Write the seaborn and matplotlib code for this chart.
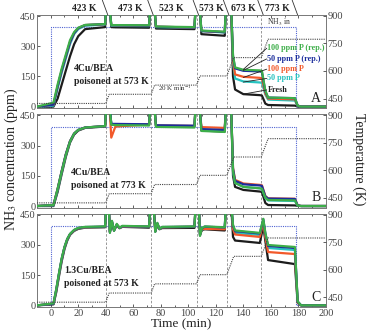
import numpy as np
import pandas as pd
import matplotlib
matplotlib.use('Agg')
import matplotlib.pyplot as plt
import matplotlib.transforms as mtransforms
import seaborn as sns

sns.set_style('ticks')
plt.rcParams['font.family'] = ['Liberation Serif', 'DejaVu Serif']
plt.rcParams['mathtext.fontset'] = 'stix'

# ---- data ----
samples = ['Fresh', '50 ppm P', '100 ppm P', '50 ppm P (rep.)', '100 ppm P (rep.)']
colors = {'Fresh': '#1c1c1c', '50 ppm P': '#27c3c0', '100 ppm P': '#f2592a',
          '50 ppm P (rep.)': '#1b2d9c', '100 ppm P (rep.)': '#3dae49'}

# time grid (min) for panels A and B
time_ab = [-10, 2, 5, 8, 11, 14, 17, 20, 25, 39.5, 40.5, 42.5, 44, 47, 71.5, 72.5, 75, 76.5,
           104.5, 105.5, 108, 109.5, 126.5, 127.5, 131, 132.5, 134, 140, 152, 153.5, 156, 158,
           177.5, 179.5, 182, 200]

conc_a = {
    'Fresh': [0, 0, 40, 110, 180, 250, 310, 350, 385, 395, 520, 520, 395, 394, 392, 520, 520, 388, 385,
              520, 520, 360, 352, 520, 520, 150, 85, 62, 57, 55, 15, 8, 5, 1, 0, 0],
    '50 ppm P': [0, 5, 90, 170, 240, 310, 360, 385, 402, 408, 520, 520, 402, 401, 400, 520, 520, 395, 392,
                 520, 520, 375, 368, 520, 520, 220, 140, 125, 120, 118, 60, 35, 30, 3, 0, 0],
    '100 ppm P': [0, 10, 100, 180, 250, 320, 365, 390, 405, 410, 520, 520, 405, 404, 402, 520, 520, 397, 393,
                  520, 520, 376, 370, 520, 520, 230, 160, 148, 143, 140, 65, 40, 36, 4, 0, 0],
    '50 ppm P (rep.)': [0, 10, 100, 180, 250, 320, 365, 390, 405, 410, 520, 520, 405, 404, 402, 520, 520, 397, 393,
                        520, 520, 376, 370, 520, 520, 250, 190, 178, 175, 172, 75, 45, 42, 5, 0, 0],
    '100 ppm P (rep.)': [0, 20, 110, 190, 260, 330, 370, 392, 406, 410, 520, 520, 405, 405, 404, 520, 520, 398, 395,
                         520, 520, 378, 372, 520, 520, 255, 195, 183, 180, 177, 80, 45, 42, 5, 0, 0],
}

conc_b = {
    'Fresh': [0, 0, 70, 160, 245, 315, 355, 375, 388, 395, 520, 520, 405, 404, 403, 520, 520, 398, 396,
              520, 520, 375, 370, 520, 520, 150, 95, 80, 72, 70, 15, 5, 3, 1, 0, 0],
    '50 ppm P': [0, 3, 80, 170, 255, 320, 360, 378, 390, 397, 520, 520, 407, 405, 404, 520, 520, 399, 397,
                 520, 520, 380, 374, 520, 520, 170, 115, 95, 88, 85, 40, 28, 25, 2, 0, 0],
    '100 ppm P': [0, 5, 85, 175, 258, 322, 360, 378, 390, 397, 520, 520, 340, 395, 405, 520, 520, 400, 398,
                  520, 520, 392, 388, 520, 520, 190, 130, 112, 105, 103, 50, 38, 36, 3, 0, 0],
    '50 ppm P (rep.)': [0, 5, 85, 175, 258, 322, 360, 378, 390, 397, 520, 520, 408, 408, 406, 520, 520, 401, 399,
                        520, 520, 382, 378, 520, 520, 185, 125, 108, 102, 100, 48, 37, 35, 3, 0, 0],
    '100 ppm P (rep.)': [0, 5, 85, 172, 255, 320, 360, 378, 390, 397, 520, 520, 404, 402, 400, 520, 520, 393, 390,
                         520, 520, 373, 368, 520, 520, 175, 115, 95, 88, 86, 42, 30, 28, 2, 0, 0],
}

# time grid (min) for panel C
time_c = [-10, 2, 4, 6, 8, 10, 12, 14, 17, 20, 25, 39.5, 40.5, 42, 43, 44.5, 46, 48, 50, 52,
          71.5, 72.5, 74.5, 76, 77.5, 79, 81, 104.5, 105.5, 107.5, 108.5, 110, 112,
          126.5, 127.5, 131, 132.5, 134, 140, 152, 154.5, 156, 158, 177.5, 179.5, 182, 200]

conc_c = {
    'Fresh': [0, 5, 65, 145, 220, 280, 322, 350, 370, 380, 386, 388, 520, 520, 368, 410, 375, 398, 383, 390,
              386, 520, 520, 370, 400, 378, 384, 385, 520, 520, 355, 375, 378,
              372, 520, 520, 340, 322, 318, 310, 395, 320, 225, 205, 12, 0, 0],
    '50 ppm P': [0, 8, 75, 155, 230, 288, 328, 353, 373, 383, 388, 390, 520, 520, 365, 415, 372, 400, 385, 392,
                 390, 520, 520, 368, 405, 380, 388, 390, 520, 520, 350, 383, 390,
                 386, 520, 520, 390, 360, 356, 350, 420, 350, 285, 275, 18, 0, 0],
    '100 ppm P': [0, 8, 75, 155, 230, 288, 328, 353, 373, 383, 388, 390, 520, 520, 365, 415, 372, 400, 385, 392,
                  390, 520, 520, 368, 405, 380, 388, 390, 520, 520, 350, 380, 380,
                  378, 520, 520, 380, 352, 348, 340, 415, 340, 265, 255, 15, 0, 0],
    '50 ppm P (rep.)': [0, 8, 78, 158, 232, 289, 329, 354, 374, 384, 389, 391, 520, 520, 362, 418, 371, 402, 385, 393,
                        391, 520, 520, 366, 408, 380, 389, 391, 520, 520, 348, 384, 391,
                        387, 520, 520, 395, 368, 365, 357, 428, 358, 295, 285, 18, 0, 0],
    '100 ppm P (rep.)': [0, 10, 80, 160, 235, 290, 330, 355, 375, 385, 390, 392, 520, 520, 360, 420, 370, 405, 385, 395,
                         392, 520, 520, 365, 410, 380, 390, 392, 520, 520, 345, 385, 392,
                         388, 520, 520, 400, 372, 368, 360, 430, 360, 300, 290, 20, 0, 0],
}

# NH3 inlet and temperature programme
nh3_in_t = [-10, 0, 0, 178.5, 178.5, 200]
nh3_in_v = [0, 0, 395, 395, 0, 0]
temp_t = [-10, 40, 42.5, 73, 75.5, 106, 108.5, 128, 133, 153, 158, 200]
temp_k = [423, 423, 473, 473, 523, 523, 573, 573, 673, 673, 773, 773]
step_times = [40, 73, 106, 128, 153]
stage_labels = ['423 K', '473 K', '523 K', '573 K', '673 K', '773 K']
stage_label_t = [24, 58, 88, 117, 140, 165]
slash_t = [40, 73, 106, 128, 153, 178]

panels = [
    ('A', time_ab, conc_a, '4Cu/BEA\npoisoned at 573 K', 17, 157),
    ('B', time_ab, conc_b, '4Cu/BEA\npoisoned at 773 K', 15, 134),
    ('C', time_c, conc_c, '1.3Cu/BEA\npoisoned at 573 K', 10, 141),
]

fig = plt.figure(figsize=(3.68, 3.32), dpi=100)
left, width, height = 0.1005, 0.785, 0.2807
bottoms = [0.674, 0.3746, 0.0754]
tick_col = '#444444'

axes = []
for (letter, tt, conc, name, nx, ny), bot in zip(panels, bottoms):
    ax = fig.add_axes([left, bot, width, height])
    axes.append(ax)
    rows = []
    for s in samples:
        for t, v in zip(tt, conc[s]):
            rows.append((t, v, s))
    df = pd.DataFrame(rows, columns=['t', 'conc', 'sample'])

    for st in step_times:
        ax.axvline(st, color='#888888', lw=0.6, ls=(0, (3, 2)), zorder=1)
    sns.lineplot(x=nh3_in_t, y=nh3_in_v, ax=ax, color='#4f63d2', lw=0.8, ls=(0, (1, 1)),
                 estimator=None, sort=False, zorder=2)
    sns.lineplot(data=df, x='t', y='conc', hue='sample', hue_order=samples, palette=colors,
                 estimator=None, sort=False, lw=1.6, legend=False, ax=ax, zorder=3)

    ax.set_xlim(-10, 200)
    ax.set_ylim(-8, 455)
    ax.set_yticks([0, 150, 300, 450])
    ax.set_xticks(range(0, 201, 20))
    ax.set_xticks(range(-10, 201, 10), minor=True)
    ax.set_xlabel('')
    ax.set_ylabel('')
    ax.tick_params(axis='both', which='both', direction='in', top=True, labelsize=7.5,
                   colors=tick_col, length=2.5, width=0.6)
    ax.tick_params(axis='x', which='minor', length=1.5)
    ax.tick_params(axis='y', pad=1)
    ax.tick_params(axis='x', pad=1.5)
    for sp in ax.spines.values():
        sp.set_color('#777777')
        sp.set_linewidth(0.7)
    if letter != 'C':
        ax.set_xticklabels([])

    ax2 = ax.twinx()
    sns.lineplot(x=temp_t, y=temp_k, ax=ax2, color='#444444', lw=0.8, ls=(0, (1, 1)),
                 estimator=None, sort=False)
    ax2.set_ylim(397, 905)
    ax2.set_yticks([450, 600, 750, 900])
    ax2.tick_params(axis='y', direction='in', labelsize=7.5, colors=tick_col, length=2.5,
                    width=0.6, pad=1)
    for sp in ax2.spines.values():
        sp.set_visible(False)

    ax.text(nx, ny, name, fontsize=7, fontweight='bold', color='#222222',
            ha='left', va='center', linespacing=1.5, zorder=4)
    ax.text(193, 40, letter, fontsize=10, color='#222222', ha='center', va='center')

axA, axC = axes[0], axes[2]

# stage temperatures above panel A
trans = mtransforms.blended_transform_factory(axA.transData, axA.transAxes)
for lab, x in zip(stage_labels, stage_label_t):
    axA.text(x, 1.07, lab, transform=trans, fontsize=7, fontweight='bold',
             ha='center', va='center', color='#222222')
for x in slash_t:
    axA.plot([x - 2.5, x + 1.5], [1.16, 1.0], transform=trans, color='#333333',
             lw=0.6, clip_on=False)

axA.text(90, 90, '20 K min$^{-1}$', fontsize=5, ha='center', va='center', color='#333333')
axA.text(166, 420, 'NH$_3$ in', fontsize=5.5, ha='center', va='center', color='#333333')

# labels of the series in panel A
label_y = [290, 237, 186, 140, 83]
label_s = ['100 ppm P (rep.)', '50 ppm P (rep.)', '100 ppm P', '50 ppm P', 'Fresh']
curve_y = [185, 180, 145, 122, 62]
for s, ly, cy in zip(label_s, label_y, curve_y):
    axA.plot([157, 140], [ly, cy], color='#222222', lw=0.6, zorder=4)
    axA.text(157.5, ly, s, fontsize=5.9, fontweight='bold', ha='left', va='center',
             color='#222222' if s == 'Fresh' else colors[s], zorder=5)

axC.set_xlabel('Time (min)', fontsize=9.5, labelpad=0, color='#222222')
fig.text(0.03, 0.52, 'NH$_3$ concentration (ppm)', rotation=90, fontsize=10,
         ha='center', va='center', color='#222222')
fig.text(0.975, 0.52, 'Temperature (K)', rotation=270, fontsize=10,
         ha='center', va='center', color='#222222')

fig.savefig('out.png', dpi=100)
